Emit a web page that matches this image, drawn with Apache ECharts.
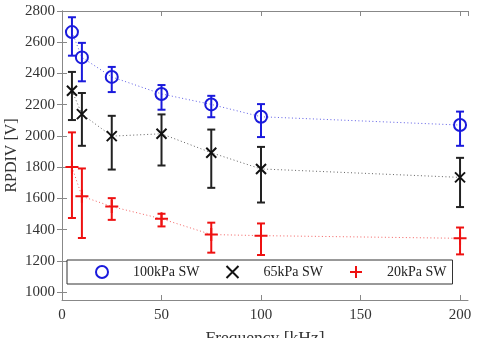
<!DOCTYPE html>
<html><head><meta charset="utf-8">
<script src="https://cdn.jsdelivr.net/npm/echarts@6/dist/echarts.min.js"></script>
<style>html,body{margin:0;padding:0;background:#fff}#c{width:477px;height:338px}</style>
</head><body><div id="c"></div>
<script>
const freq = [5, 10, 25, 50, 75, 100, 200];
const names = ['100kPa SW', '65kPa SW', '20kPa SW'];
const v100 = [2665, 2503, 2378, 2269, 2202, 2123, 2070];
const lo100 = [2514, 2350, 2281, 2168, 2120, 1993, 1937];
const hi100 = [2760, 2596, 2442, 2326, 2257, 2204, 2156];
const v65 = [2290, 2140, 1999, 2014, 1893, 1789, 1735];
const lo65 = [2102, 1937, 1785, 1811, 1668, 1574, 1545];
const hi65 = [2410, 2275, 2129, 2138, 2041, 1930, 1860];
const v20 = [1801, 1614, 1548, 1470, 1369, 1362, 1345];
const lo20 = [1475, 1347, 1463, 1421, 1253, 1238, 1242];
const hi20 = [2023, 1792, 1602, 1502, 1445, 1440, 1414];
const yTicks = [1000, 1200, 1400, 1600, 1800, 2000, 2200, 2400, 2600, 2800];

const colors = ['#1a1adc', '#111111', '#ee1111'];
const lineColors = ['rgba(40,40,220,0.75)', 'rgba(60,60,60,0.8)', 'rgba(238,30,30,0.7)'];
const FONT = 'Liberation Serif';
const symX = 'path://M0,0L10,10M10,0L0,10';
const symPlus = 'path://M5,0L5,10M0,5L10,5';
const symbols = ['circle', symX, symPlus];
const sizes = [12, 10, 13];

function errSeries(lo, hi, color, w) {
  return {
    type: 'custom', silent: true, z: 3,
    data: freq.map((f, i) => [f, lo[i], hi[i]]),
    encode: {x: 0, y: [1, 2]},
    renderItem: function (params, api) {
      const x = api.value(0);
      const a = api.coord([x, api.value(2)]);
      const b = api.coord([x, api.value(1)]);
      const cw = 4;
      const st = {stroke: color, lineWidth: w};
      return {type: 'group', children: [
        {type: 'line', shape: {x1: a[0], y1: a[1], x2: b[0], y2: b[1]}, style: st},
        {type: 'line', shape: {x1: a[0] - cw, y1: a[1], x2: a[0] + cw, y2: a[1]}, style: st},
        {type: 'line', shape: {x1: b[0] - cw, y1: b[1], x2: b[0] + cw, y2: b[1]}, style: st}
      ]};
    }
  };
}

const vals = [v100, v65, v20];
const series = [];
vals.forEach((v, k) => {
  series.push({
    name: names[k], type: 'line', z: 4,
    data: freq.map((f, i) => [f, v[i]]),
    symbol: symbols[k], symbolSize: sizes[k],
    lineStyle: {type: [1, 2.5], width: 1, color: lineColors[k]},
    itemStyle: {color: k === 0 ? 'rgba(0,0,0,0)' : colors[k], borderColor: colors[k], borderWidth: 2},
    emphasis: {disabled: true}
  });
});
series.push(errSeries(lo100, hi100, colors[0], 2));
series.push(errSeries(lo65, hi65, '#222222', 2));
series.push(errSeries(lo20, hi20, colors[2], 2));

const axisCol = '#888888';
const fmt = v => String(v);
const labelStyle = {fontFamily: FONT, fontSize: 15, color: '#333', formatter: fmt};
const chart = echarts.init(document.getElementById('c'), null, {renderer: 'canvas'});
chart.setOption({
  animation: false,
  backgroundColor: '#fff',
  grid: {left: 62, right: 9, top: 11, bottom: 38, containLabel: false, outerBoundsMode: 'none'},
  legend: {
    left: 67, top: 260, orient: 'horizontal',
    data: names.map((n, k) => ({name: n, icon: k === 0 ? 'circle' : symbols[k]})),
    itemWidth: 12, itemHeight: 12, itemGap: 26,
    padding: [5, 6, 5, 28],
    borderColor: '#333', borderWidth: 1, backgroundColor: '#fff',
    textStyle: {fontFamily: FONT, fontSize: 14, color: '#222', padding: [0, 0, 0, 20]},
    selectedMode: false
  },
  graphic: [{
    type: 'text', x: 265, y: 329, silent: true,
    style: {text: 'Frequency [kHz]', font: '17.5px "Liberation Serif"', fill: '#333', textAlign: 'center', textVerticalAlign: 'top'}
  }],
  xAxis: [{
    type: 'value', min: 0, max: 204, interval: 50,
    axisLine: {lineStyle: {color: axisCol}},
    axisTick: {inside: true, length: 5, lineStyle: {color: axisCol}},
    axisLabel: Object.assign({margin: 8}, labelStyle),
    splitLine: {show: false}
  }, {
    type: 'value', min: 0, max: 204, interval: 50, position: 'top',
    axisLine: {lineStyle: {color: axisCol}},
    axisTick: {inside: true, length: 5, lineStyle: {color: axisCol}},
    axisLabel: {show: false}, splitLine: {show: false}
  }],
  yAxis: [{
    type: 'value', min: 950, max: 2800,
    name: 'RPDIV [V]', nameLocation: 'middle', nameGap: 42, nameMoveOverlap: false,
    nameTextStyle: {fontFamily: FONT, fontSize: 16, color: '#333'},
    axisLine: {show: true, lineStyle: {color: axisCol}},
    axisTick: {show: true, inside: true, length: 5, lineStyle: {color: axisCol}, customValues: yTicks},
    axisLabel: Object.assign({margin: 7, customValues: yTicks}, labelStyle),
    splitLine: {show: false}
  }, {
    type: 'value', min: 950, max: 2800, position: 'right',
    axisLine: {show: true, lineStyle: {color: axisCol}},
    axisTick: {show: true, inside: true, length: 5, lineStyle: {color: axisCol}, customValues: yTicks},
    axisLabel: {show: false, customValues: yTicks}, splitLine: {show: false}
  }],
  series: series
});
</script></body></html>
